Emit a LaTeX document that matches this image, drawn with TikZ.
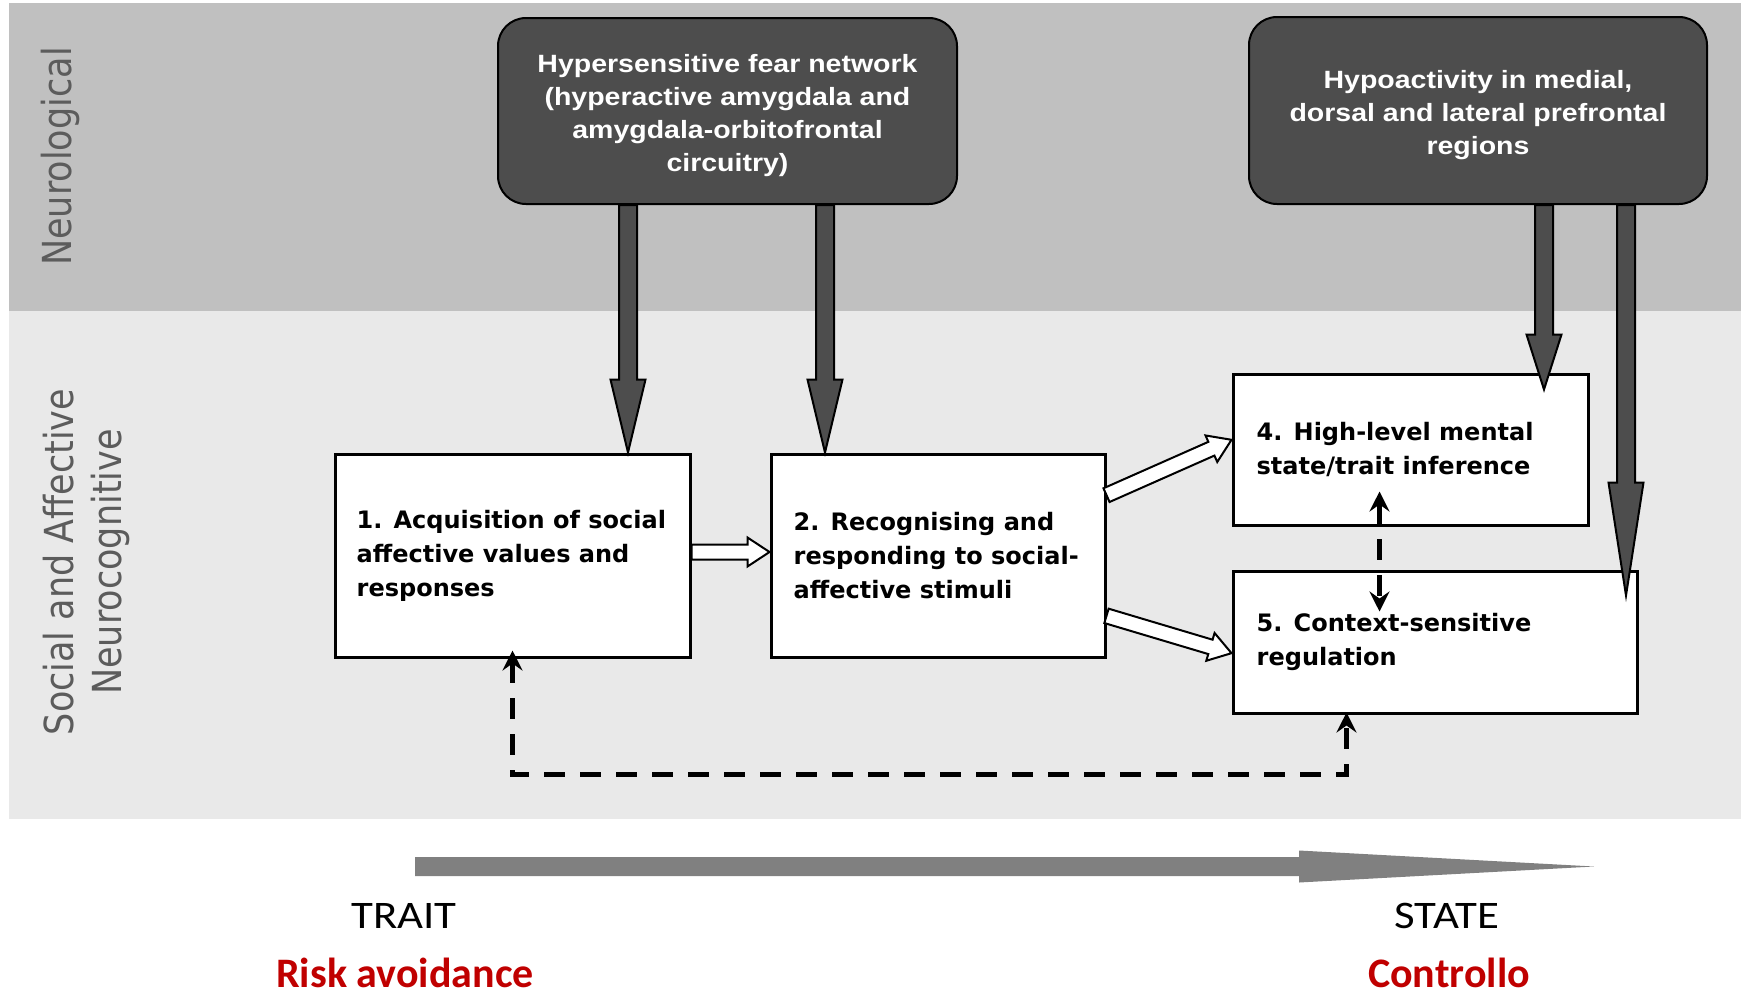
\documentclass[tikz,border=0pt]{standalone}
\usepackage{fontspec}
\usetikzlibrary{calc,arrows.meta}

\definecolor{bandtop}{RGB}{192,192,192}
\definecolor{bandlow}{RGB}{233,233,233}
\definecolor{darkfill}{RGB}{77,77,77}
\definecolor{sidegray}{RGB}{92,92,92}
\definecolor{axisgray}{RGB}{128,128,128}
\definecolor{accentred}{RGB}{192,0,0}

\newfontfamily\darkfont[FakeStretch=1.14]{Liberation Sans}
\newfontfamily\boxfont{DejaVu Sans}
\newfontfamily\sidefont[FakeStretch=0.875]{DejaVu Sans}
\newfontfamily\axisfont[FakeStretch=1.15]{Carlito}
\newfontfamily\notefont{Carlito}

% taller first line, pushes a centred text block a little lower
\newcommand\toplift{\rule{0pt}{28pt}}

% solid block arrow: #1 start, #2 tip, #3 head length
\newcommand\blockarrow[3]{%
  \draw[blockarr] ($(#1)+(-9,0)$) -- ($(#2)+(-9,-#3)$) -- ($(#2)+(-17.5,-#3)$)
    -- (#2) -- ($(#2)+(17.5,-#3)$) -- ($(#2)+(9,-#3)$) -- ($(#1)+(9,0)$) -- cycle;}

% hollow arrow: #1 start, #2 tip, #3 name of the head-base coordinate
\newcommand\hollowarrow[3]{%
  \coordinate (#3) at ($(#2)!22pt!(#1)$);
  \draw[hollowarr] ($(#1)!7.5pt!90:(#2)$) -- ($(#3)!7.5pt!-90:(#1)$)
    -- ($(#3)!14.5pt!-90:(#1)$) -- (#2) -- ($(#3)!14.5pt!90:(#1)$)
    -- ($(#3)!7.5pt!90:(#1)$) -- ($(#1)!7.5pt!-90:(#2)$) -- cycle;}

\begin{document}
\begin{tikzpicture}[x=1pt,y=-1pt,
  darkbox/.style={draw=black, line width=2pt, fill=darkfill, rounded corners=28pt,
    inner sep=0pt, align=center, text=white,
    font=\darkfont\bfseries\fontsize{25}{33}\selectfont},
  procbox/.style={draw=black, line width=3pt, fill=white, inner sep=0pt},
  boxtext/.style={anchor=west, inner sep=0pt, align=left,
    font=\boxfont\bfseries\fontsize{24}{34}\selectfont},
  sidelabel/.style={rotate=90, inner sep=0pt, text=sidegray,
    font=\sidefont\fontsize{40}{48}\selectfont},
  blockarr/.style={draw=black, line width=2pt, fill=darkfill, line join=miter},
  hollowarr/.style={draw=black, line width=2pt, fill=white, line join=miter},
  dashconn/.style={draw=black, line width=4.5pt, dash pattern=on 21pt off 15pt,
    {Stealth[length=20pt,width=20pt,inset=7pt]}-{Stealth[length=20pt,width=20pt,inset=7pt]}},
  axislabel/.style={anchor=base, inner sep=0pt, font=\axisfont\fontsize{39}{39}\selectfont},
  notelabel/.style={anchor=base, inner sep=0pt, text=accentred,
    font=\notefont\bfseries\fontsize{42}{42}\selectfont}
]
\useasboundingbox (0,0) rectangle (1741,997);
\fill[white] (0,0) rectangle (1741,997);

% level bands
\fill[bandtop] (9,3) rectangle (1741,311);
\fill[bandlow] (9,311) rectangle (1741,819);

% band labels
\node[sidelabel, anchor=base] (labneuro) at (71,156.5) {Neurological};
\node[sidelabel, align=center] (labsocial) at (86.5,562) {Social and Affective\\Neurocognitive};

% neurological boxes
\node[darkbox, minimum width=459pt, minimum height=186pt] (n1) at (727.5,111)
  {\toplift Hypersensitive fear network\\(hyperactive amygdala and\\amygdala-orbitofrontal\\circuitry)};
\node[darkbox, minimum width=458pt, minimum height=187pt] (n2) at (1478,110.5)
  {\toplift Hypoactivity in medial,\\dorsal and lateral prefrontal\\regions};

% neurocognitive process boxes
\node[procbox, minimum width=355pt, minimum height=203pt] (b1) at (512.5,555.5) {};
\node[procbox, minimum width=334pt, minimum height=203pt] (b2) at (938,555.5) {};
\node[procbox, minimum width=355pt, minimum height=151pt] (b4) at (1410.5,449.5) {};
\node[procbox, minimum width=404pt, minimum height=142pt] (b5) at (1435,642) {};

\node[boxtext] (b1t) at ($(b1.west)+(23,0)$) {1. Acquisition of social\\affective values and\\responses};
\node[boxtext] (b2t) at ($(b2.west)+(24,0)$) {2. Recognising and\\responding to social-\\affective stimuli};
\node[boxtext] (b4t) at ($(b4.west)+(25,0)$) {4. High-level mental\\state/trait inference};
\node[boxtext] (b5t) at ($(b5.west)+(25,0)$) {5. Context-sensitive\\regulation};

% top-down block arrows
\coordinate (s1) at ($(n1.south)+(-99.5,0)$);
\coordinate (s2) at ($(n1.south)+(97.5,0)$);
\coordinate (s3) at ($(n2.south)+(66,0)$);
\coordinate (s4) at ($(n2.south)+(148,0)$);
\coordinate (t1) at (b1.north -| s1);
\coordinate (t2) at (b2.north -| s2);
\coordinate (t3) at ($(b4.north -| s3)+(0,17)$);
\coordinate (t4) at ($(b5.north -| s4)+(0,26)$);
\blockarrow{s1}{t1}{73}
\blockarrow{s2}{t2}{73}
\blockarrow{s3}{t3}{55}
\blockarrow{s4}{t4}{113}

% hollow process arrows
\coordinate (h1s) at ($(b1.east)+(0,-3.5)$);
\coordinate (h1t) at (b2.west |- h1s);
\coordinate (h2s) at ($(b2.north east)!0.207!(b2.south east)$);
\coordinate (h2t) at ($(b4.north west)!0.437!(b4.south west)$);
\coordinate (h3s) at ($(b2.north east)!0.793!(b2.south east)$);
\coordinate (h3t) at ($(b5.north west)!0.577!(b5.south west)$);
\hollowarrow{h1s}{h1t}{h1b}
\hollowarrow{h2s}{h2t}{h2b}
\hollowarrow{h3s}{h3t}{h3b}

% dashed reciprocal links
\coordinate (v4) at ($(b4.south west)+(148,-35)$);
\coordinate (v5) at ($(b5.north west)+(148,42)$);
\draw[dashconn] (v4) -- (v5);
\coordinate (fb) at ($(b5.south west)+(115,60)$);
\draw[dashconn] ($(b1.south)+(0,-8)$) |- (fb) -- ($(fb |- b5.south)+(0,-2)$);

% trait-to-state axis
\coordinate (axS) at (415,866.5);
\coordinate (axE) at (1594,866.5);
\fill[axisgray] ($(axS)+(0,-9.5)$) -- ($(axE)+(-295,-9.5)$) -- ($(axE)+(-295,-16)$)
  -- (axE) -- ($(axE)+(-295,16)$) -- ($(axE)+(-295,9.5)$) -- ($(axS)+(0,9.5)$) -- cycle;

\node[axislabel] (trait) at (404,928) {TRAIT};
\node[axislabel] (state) at (1447,928) {STATE};
\node[notelabel] (risk) at (405,987) {Risk avoidance};
\node[notelabel] (ctrl) at (1449,987) {Controllo};
\end{tikzpicture}
\end{document}
